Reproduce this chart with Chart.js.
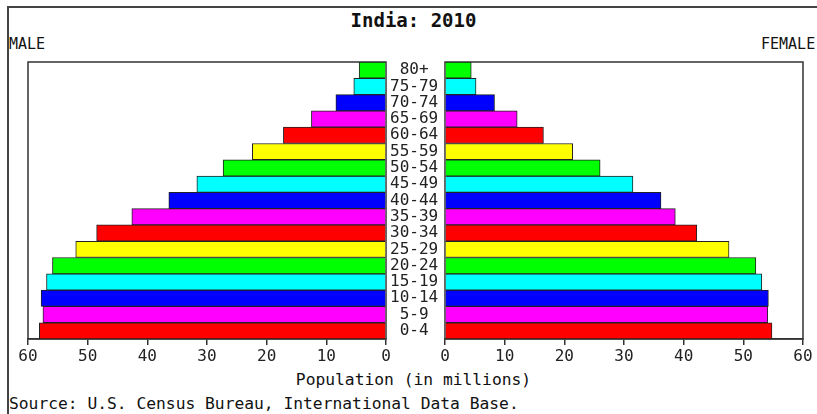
<!DOCTYPE html>
<html>
<head>
<meta charset="utf-8">
<script src="https://cdn.jsdelivr.net/npm/chart.js@4"></script>
<style>
  html, body { margin:0; padding:0; background:#fff; }
  #wrap { position:relative; width:817px; height:414px; overflow:hidden; background:#fff; }
  #frame { position:absolute; left:7px; top:6px; width:830px; height:430px; border-left:2px solid #444; border-top:2px solid #444; }
  canvas { position:absolute; top:0; }
  .txt { position:absolute; font-family:"DejaVu Sans Mono", "Liberation Mono", monospace; color:#111; white-space:nowrap; line-height:1; }
</style>
</head>
<body>
<div id="wrap">
  <div id="frame"></div>
  <div class="txt" style="left:0;width:827px;text-align:center;top:11px;font-size:19px;font-weight:bold;">India: 2010</div>
  <div class="txt" style="left:9px;top:37px;font-size:15px;">MALE</div>
  <div class="txt" style="left:761px;top:37px;font-size:15px;">FEMALE</div>
  <div class="txt" style="left:0;width:827px;text-align:center;top:372px;font-size:16.3px;">Population (in millions)</div>
  <div class="txt" style="left:9px;top:396px;font-size:16.3px;">Source: U.S. Census Bureau, International Data Base.</div>
  <canvas id="male" width="460" height="414" style="left:0;"></canvas>
  <canvas id="female" width="387" height="414" style="left:430px;"></canvas>
</div>
<script>
// ---- data ----
const ageGroups = ["0-4","5-9","10-14","15-19","20-24","25-29","30-34","35-39","40-44","45-49","50-54","55-59","60-64","65-69","70-74","75-79","80+"];
const maleValues = [58.1,57.5,57.8,56.9,55.9,52.0,48.5,42.6,36.4,31.7,27.3,22.4,17.2,12.5,8.4,5.4,4.5];
const femaleValues = [54.8,54.1,54.2,53.1,52.1,47.6,42.2,38.6,36.2,31.5,26.0,21.4,16.5,12.1,8.3,5.2,4.4];
const xTicks = [0,10,20,30,40,50,60];
const barColors = ["#ff0000","#ff00ff","#0000ff","#00ffff","#00ff00","#ffff00"];

const colorsFor = ageGroups.map((_, i) => barColors[i % barColors.length]);
const mono = "'DejaVu Sans Mono', 'Liberation Mono', monospace";

const framePlugin = {
  id: 'frame',
  beforeDatasetsDraw(chart) {
    const a = chart.chartArea, ctx = chart.ctx;
    ctx.save();
    ctx.strokeStyle = '#333';
    ctx.lineWidth = 1.5;
    ctx.strokeRect(a.left, a.top, a.right - a.left, a.bottom - a.top);
    ctx.restore();
  }
};

function xScale(reverse) {
  return {
    type: 'linear', min: 0, max: 60, reverse: reverse,
    afterBuildTicks(s) { s.ticks = xTicks.map(v => ({ value: v })); },
    afterFit(s) { s.height = 30; },
    grid: { drawOnChartArea: false, drawTicks: true, tickLength: 6, color: '#333', lineWidth: 1.5 },
    border: { display: true, color: '#333', width: 1.5 },
    ticks: { font: { family: mono, size: 16 }, color: '#222', padding: 2, maxRotation: 0, autoSkip: false }
  };
}

Chart.defaults.animation = false;

new Chart(document.getElementById('male'), {
  type: 'bar',
  data: {
    labels: ageGroups,
    datasets: [{
      data: maleValues,
      backgroundColor: colorsFor,
      borderColor: '#222',
      borderWidth: 1,
      barPercentage: 1,
      categoryPercentage: 1
    }]
  },
  options: {
    indexAxis: 'y',
    responsive: false,
    devicePixelRatio: 1,
    layout: { padding: { left: 28, right: 15, top: 62, bottom: 45 } },
    plugins: { legend: { display: false }, tooltip: { enabled: false } },
    scales: {
      x: xScale(true),
      y: {
        position: 'right',
        reverse: true,
        afterFit(s) { s.width = 59; },
        grid: { display: false, drawTicks: false },
        border: { display: false },
        ticks: { crossAlign: 'center', padding: 4, font: { family: mono, size: 16 }, color: '#222', autoSkip: false }
      }
    }
  },
  plugins: [framePlugin]
});

new Chart(document.getElementById('female'), {
  type: 'bar',
  data: {
    labels: ageGroups,
    datasets: [{
      data: femaleValues,
      backgroundColor: colorsFor,
      borderColor: '#222',
      borderWidth: 1,
      barPercentage: 1,
      categoryPercentage: 1
    }]
  },
  options: {
    indexAxis: 'y',
    responsive: false,
    devicePixelRatio: 1,
    layout: { padding: { left: 15, right: 14, top: 62, bottom: 45 } },
    plugins: { legend: { display: false }, tooltip: { enabled: false } },
    scales: {
      x: xScale(false),
      y: { display: false, reverse: true }
    }
  },
  plugins: [framePlugin]
});
</script>
</body>
</html>
